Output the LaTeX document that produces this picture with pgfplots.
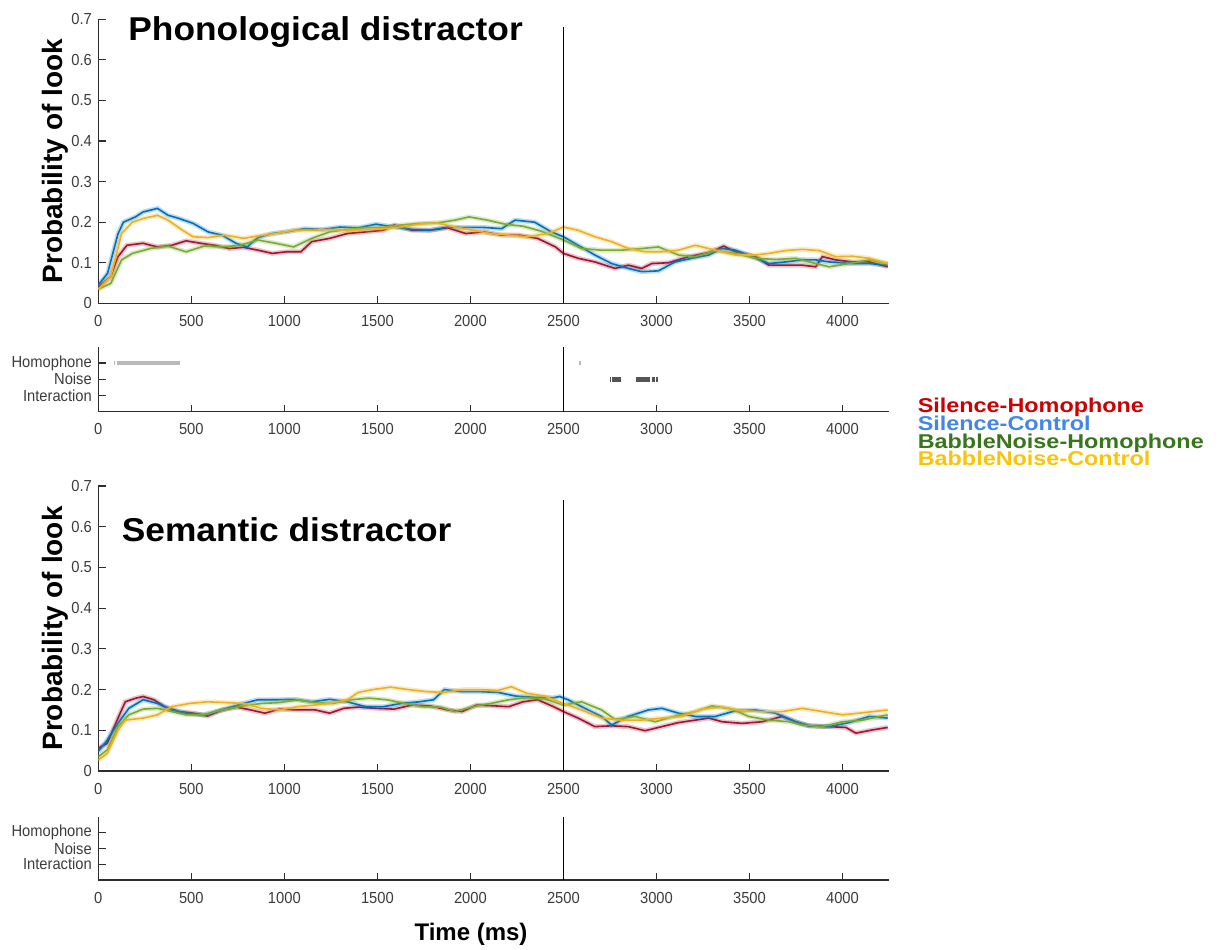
\documentclass[border=0pt]{standalone}
\usepackage{pgfplots}
\pgfplotsset{compat=1.18}
\usepackage{pgfplotstable}
\usepackage{fontspec}
\setmainfont{Liberation Sans}

\definecolor{axgray}{RGB}{45,45,45}
\definecolor{lblgray}{RGB}{60,60,60}
\definecolor{cRed}{RGB}{162,20,47}
\definecolor{cBlue}{RGB}{0,114,189}
\definecolor{cGreen}{RGB}{119,172,48}
\definecolor{cYel}{RGB}{237,177,32}
\definecolor{lgRed}{RGB}{204,0,0}
\definecolor{lgBlue}{RGB}{66,133,235}
\definecolor{lgGreen}{RGB}{56,118,29}
\definecolor{lgYel}{RGB}{250,196,10}
\definecolor{statLight}{RGB}{185,185,185}
\definecolor{statDark}{RGB}{85,85,85}

% phonological distractor
\pgfplotstableread{
t p
0 0.040
67 0.066
106 0.115
154 0.143
240 0.148
318 0.139
395 0.143
472 0.154
549 0.148
626 0.143
703 0.135
780 0.138
858 0.131
935 0.123
1012 0.127
1089 0.127
1147 0.152
1243 0.160
1339 0.172
1436 0.176
1532 0.180
1590 0.193
1686 0.180
1782 0.180
1879 0.186
1975 0.172
2072 0.176
2168 0.168
2264 0.168
2361 0.160
2457 0.139
2500 0.123
2579 0.111
2669 0.102
2777 0.086
2849 0.094
2921 0.086
2975 0.098
3065 0.100
3173 0.115
3281 0.125
3362 0.141
3424 0.127
3532 0.115
3604 0.094
3694 0.094
3784 0.094
3856 0.090
3892 0.115
3964 0.107
4054 0.102
4144 0.102
4243 0.090
}\phSH
\pgfplotstableread{
t p
0 0.045
50 0.074
105 0.170
135 0.200
200 0.213
240 0.225
318 0.234
375 0.217
435 0.209
510 0.197
590 0.176
665 0.168
740 0.148
800 0.139
858 0.162
935 0.172
1010 0.176
1108 0.184
1205 0.182
1300 0.188
1397 0.186
1493 0.195
1590 0.188
1686 0.182
1782 0.180
1879 0.188
1975 0.187
2072 0.187
2168 0.184
2240 0.205
2345 0.200
2435 0.176
2500 0.164
2579 0.143
2669 0.119
2759 0.098
2849 0.086
2921 0.078
3011 0.080
3100 0.102
3191 0.111
3281 0.119
3353 0.135
3424 0.131
3496 0.119
3604 0.098
3694 0.102
3784 0.107
3856 0.107
3928 0.102
4054 0.098
4144 0.098
4243 0.094
}\phSC
\pgfplotstableread{
t p
0 0.035
67 0.049
125 0.107
183 0.123
279 0.135
375 0.141
472 0.127
568 0.141
665 0.139
761 0.143
858 0.156
954 0.148
1050 0.139
1147 0.160
1243 0.176
1339 0.182
1436 0.186
1532 0.187
1628 0.193
1725 0.197
1821 0.198
1917 0.205
1994 0.213
2091 0.205
2187 0.195
2283 0.190
2380 0.178
2500 0.156
2597 0.135
2705 0.131
2813 0.131
2921 0.135
3011 0.139
3119 0.119
3209 0.115
3317 0.130
3424 0.123
3532 0.111
3640 0.108
3748 0.111
3856 0.098
3928 0.090
4036 0.098
4144 0.107
4243 0.098
}\phBH
\pgfplotstableread{
t p
0 0.035
67 0.066
125 0.172
183 0.200
240 0.209
318 0.217
375 0.205
453 0.180
510 0.164
588 0.162
684 0.168
780 0.160
858 0.166
954 0.172
1050 0.180
1147 0.180
1243 0.182
1339 0.180
1436 0.182
1532 0.184
1628 0.188
1725 0.195
1821 0.198
1917 0.188
2014 0.180
2110 0.172
2206 0.168
2302 0.164
2418 0.172
2500 0.188
2579 0.180
2669 0.164
2759 0.152
2849 0.135
2939 0.127
3029 0.127
3119 0.131
3209 0.143
3317 0.131
3424 0.119
3532 0.119
3604 0.123
3694 0.130
3784 0.133
3874 0.130
3964 0.115
4054 0.116
4144 0.111
4243 0.098
}\phBC

% semantic distractor
\pgfplotstableread{
t p
0 0.056
48 0.068
106 0.130
145 0.170
202 0.179
241 0.183
299 0.175
356 0.158
434 0.146
511 0.142
588 0.135
665 0.150
742 0.157
819 0.150
896 0.142
973 0.152
1070 0.150
1166 0.150
1243 0.142
1320 0.154
1397 0.157
1493 0.154
1590 0.152
1686 0.162
1782 0.160
1879 0.150
1956 0.146
2033 0.162
2129 0.160
2206 0.158
2283 0.170
2361 0.175
2447 0.158
2500 0.146
2579 0.130
2669 0.109
2759 0.111
2849 0.109
2939 0.099
3029 0.109
3119 0.119
3209 0.125
3281 0.130
3353 0.121
3460 0.117
3568 0.121
3676 0.134
3748 0.121
3820 0.111
3928 0.109
4018 0.107
4072 0.093
4162 0.101
4243 0.107
}\seSH
\pgfplotstableread{
t p
0 0.048
48 0.076
106 0.117
164 0.154
241 0.175
318 0.166
395 0.150
472 0.142
568 0.138
665 0.150
780 0.166
858 0.175
954 0.175
1050 0.176
1147 0.170
1243 0.176
1339 0.170
1436 0.158
1532 0.158
1628 0.166
1725 0.170
1802 0.175
1860 0.200
1956 0.195
2052 0.195
2148 0.193
2245 0.184
2341 0.181
2447 0.180
2480 0.183
2525 0.175
2615 0.154
2705 0.134
2759 0.113
2849 0.134
2957 0.150
3029 0.154
3119 0.142
3209 0.134
3317 0.134
3424 0.148
3532 0.150
3640 0.142
3748 0.121
3820 0.111
3928 0.109
4036 0.119
4144 0.134
4243 0.130
}\seSC
\pgfplotstableread{
t p
0 0.035
48 0.052
106 0.109
164 0.138
241 0.152
318 0.154
395 0.146
472 0.138
568 0.138
665 0.150
780 0.160
877 0.166
973 0.168
1070 0.175
1166 0.168
1262 0.166
1358 0.175
1455 0.179
1551 0.175
1648 0.166
1744 0.158
1840 0.157
1917 0.146
2014 0.158
2110 0.166
2206 0.175
2302 0.180
2400 0.177
2500 0.162
2597 0.170
2705 0.150
2777 0.127
2885 0.134
2993 0.121
3101 0.135
3209 0.146
3299 0.160
3406 0.152
3496 0.134
3604 0.125
3712 0.121
3784 0.113
3892 0.109
4000 0.121
4108 0.125
4243 0.138
}\seBH
\pgfplotstableread{
t p
0 0.027
48 0.043
106 0.100
145 0.125
241 0.130
318 0.138
395 0.158
491 0.166
588 0.170
684 0.168
780 0.166
877 0.154
973 0.150
1070 0.158
1166 0.162
1243 0.166
1339 0.175
1397 0.193
1474 0.200
1570 0.206
1667 0.200
1763 0.195
1860 0.193
1956 0.200
2052 0.200
2148 0.198
2220 0.207
2302 0.191
2400 0.184
2500 0.166
2597 0.150
2705 0.130
2813 0.125
2921 0.125
3029 0.130
3137 0.134
3245 0.152
3353 0.157
3460 0.148
3568 0.146
3676 0.146
3784 0.154
3892 0.146
4000 0.138
4108 0.143
4243 0.150
}\seBC

% curve with its light error band
\newcommand\curve[2]{%
  \addplot[#1, line width=2.4pt, opacity=0.25] table[x=t,y=p] {#2};
  \addplot[#1, line width=0.8pt] table[x=t,y=p] {#2};
}

\pgfplotsset{
  panel/.style={
    scale only axis, width=395.35pt,
    xmin=0, xmax=4250,
    axis lines*=left,
    tick align=inside,
    axis line style={draw=axgray, line width=0.6pt},
    tick style={draw=axgray, line width=0.6pt},
    major tick length=3.6pt,
    xtick={0,500,1000,1500,2000,2500,3000,3500,4000},
    ticklabel style={font=\fontsize{8}{9.5}\selectfont, text=lblgray, xscale=0.92},
    xticklabel style={yshift=-2.5pt},
    /pgf/number format/assume math mode=true,
    /pgf/number format/set thousands separator={},
    anchor=south west,
  },
  main/.style={
    panel,
    ymin=0, ymax=0.7,
    ytick={0,0.1,0.2,0.3,0.4,0.5,0.6,0.7},
    yticklabel style={/pgf/number format/fixed, /pgf/number format/precision=1},
    ylabel={Probability of look},
    ylabel style={font=\bfseries\fontsize{14}{16}\selectfont,
      at={(axis description cs:-0.0548,0.5)}, anchor=center},
  },
  stat/.style={
    panel,
    ymin=0, ymax=4,
    ytick={1,2,3},
    yticklabels={Interaction,Noise,Homophone},
  },
}

\begin{document}
\begin{tikzpicture}
\path[use as bounding box] (0pt,0pt) rectangle (611pt,-474.5pt);

% phonological distractor
\begin{axis}[main, height=142pt, at={(49.15pt,-151.65pt)}]
\curve{cRed}{\phSH}
\curve{cBlue}{\phSC}
\curve{cGreen}{\phBH}
\curve{cYel}{\phBC}
\addplot[black, line width=0.8pt] coordinates {(2500,0) (2500,0.682)};
\end{axis}

% significance, phonological
\begin{axis}[stat, height=32.5pt, at={(49.15pt,-205.85pt)}]
\addplot[statLight, line width=2.4pt] coordinates {(84,3) (90,3)};
\addplot[statLight, line width=2.4pt] coordinates {(102,3) (437,3)};
\addplot[statLight, line width=2.4pt] coordinates {(2585,3) (2592,3)};
\addplot[statDark, line width=2.4pt] coordinates {(2748,2) (2755,2)};
\addplot[statDark, line width=2.4pt] coordinates {(2762,2) (2812,2)};
\addplot[statDark, line width=2.4pt] coordinates {(2888,2) (2968,2)};
\addplot[statDark, line width=2.4pt] coordinates {(2975,2) (2990,2)};
\addplot[statDark, line width=2.4pt] coordinates {(2995,2) (3010,2)};
\addplot[black, line width=0.8pt] coordinates {(2500,0) (2500,4)};
\end{axis}

% semantic distractor
\begin{axis}[main, height=142.5pt, at={(49.15pt,-385.5pt)}]
\curve{cRed}{\seSH}
\curve{cBlue}{\seSC}
\curve{cGreen}{\seBH}
\curve{cYel}{\seBC}
\addplot[black, line width=0.8pt] coordinates {(2500,0) (2500,0.665)};
\end{axis}

% significance, semantic
\begin{axis}[stat, height=31.65pt, at={(49.15pt,-440pt)}]
\addplot[black, line width=0.8pt] coordinates {(2500,0) (2500,4)};
\end{axis}

\begin{scope}[x=0.5pt, y=-0.5pt]
\node[anchor=base west, inner sep=0pt, xscale=1.07,
  font=\bfseries\fontsize{16.5}{18}\selectfont] at (128,40) {Phonological distractor};
\node[anchor=base west, inner sep=0pt, xscale=1.07,
  font=\bfseries\fontsize{16.5}{18}\selectfont] at (121.4,541.7) {Semantic distractor};
\node[anchor=base, inner sep=0pt,
  font=\bfseries\fontsize{12}{14}\selectfont] at (471,940) {Time (ms)};
\begin{scope}[every node/.style={anchor=base west, inner sep=0pt, xscale=1.17,
  font=\bfseries\fontsize{10}{12}\selectfont}]
\node[text=lgRed] at (917.3,412.5) {Silence-Homophone};
\node[text=lgBlue] at (917.3,430.3) {Silence-Control};
\node[text=lgGreen] at (917.3,448.1) {BabbleNoise-Homophone};
\node[text=lgYel] at (917.3,465.9) {BabbleNoise-Control};
\end{scope}
\end{scope}
\end{tikzpicture}
\end{document}
